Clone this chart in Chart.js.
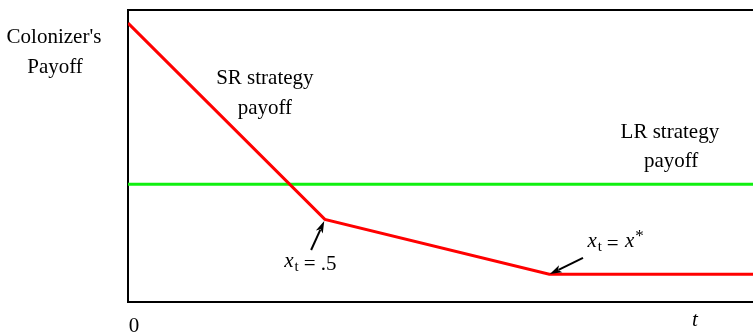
<!DOCTYPE html>
<html>
<head>
<meta charset="utf-8">
<script src="https://cdn.jsdelivr.net/npm/chart.js@4/dist/chart.umd.min.js"></script>
<style>
  body { margin: 0; background: #fff; }
  #wrap { width: 753px; height: 333px; position: relative; }
</style>
</head>
<body>
<div id="wrap"><canvas id="payoffChart"></canvas></div>
<script>
// Time axis runs 0..100 across the plot, payoff axis 0..100
const srTimes = [0, 31.5, 67.4, 100];
const srPayoff = [95.5, 28.3, 9.5, 9.5];
const lrTimes = [0, 100];
const lrPayoff = [40.3, 40.3];
const tickLabels = ['0', 't'];

const serif = '"Liberation Serif", "DejaVu Serif", serif';

// Text labels and arrows, placed in data units
const textNotes = [
  { text: 'SR strategy', x: 21.9, y: 74.6 },
  { text: 'payoff', x: 21.9, y: 64.3 },
  { text: 'LR strategy', x: 86.7, y: 56.1 },
  { text: 'payoff', x: 86.9, y: 46.3 }
];
const arrows = [
  { from: [29.3, 17.8], to: [31.4, 27.7] },
  { from: [72.8, 15.1], to: [67.5, 9.6] }
];

function drawArrow(ctx, x1, y1, x2, y2) {
  const ang = Math.atan2(y2 - y1, x2 - x1);
  const len = 12, wid = 3.8;
  ctx.beginPath();
  ctx.moveTo(x1, y1);
  ctx.lineTo(x2 - Math.cos(ang) * len * 0.8, y2 - Math.sin(ang) * len * 0.8);
  ctx.lineWidth = 2;
  ctx.strokeStyle = '#000';
  ctx.stroke();
  ctx.beginPath();
  ctx.moveTo(x2, y2);
  ctx.lineTo(x2 - Math.cos(ang) * len - Math.sin(ang) * wid, y2 - Math.sin(ang) * len + Math.cos(ang) * wid);
  ctx.lineTo(x2 - Math.cos(ang) * len * 0.75, y2 - Math.sin(ang) * len * 0.75);
  ctx.lineTo(x2 - Math.cos(ang) * len + Math.sin(ang) * wid, y2 - Math.sin(ang) * len - Math.cos(ang) * wid);
  ctx.closePath();
  ctx.fillStyle = '#000';
  ctx.fill();
}

// x_t = value, with italic x and subscript t
function drawXt(ctx, left, base, rest, star) {
  ctx.textAlign = 'left';
  ctx.textBaseline = 'alphabetic';
  ctx.fillStyle = '#000';
  let x = left;
  ctx.font = 'italic 21px ' + serif;
  ctx.fillText('x', x, base - 3);
  x += ctx.measureText('x').width + 1;
  ctx.font = '15px ' + serif;
  ctx.fillText('t', x, base + 1);
  x += ctx.measureText('t').width + 5;
  ctx.font = '21px ' + serif;
  ctx.fillText(rest, x, base);
  x += ctx.measureText(rest).width + 1;
  if (star) {
    ctx.font = 'italic 21px ' + serif;
    ctx.fillText('x', x, base - 3);
    x += ctx.measureText('x').width + 1;
    ctx.font = '17px ' + serif;
    ctx.fillText('*', x, base - 9);
  }
}

const notesPlugin = {
  id: 'notes',
  afterDatasetsDraw(chart) {
    const ctx = chart.ctx;
    const xs = chart.scales.x, ys = chart.scales.y;
    const area = chart.chartArea;
    ctx.save();
    ctx.fillStyle = '#000';
    ctx.textAlign = 'center';
    ctx.textBaseline = 'alphabetic';
    ctx.font = '21px ' + serif;
    textNotes.forEach(n => {
      ctx.fillText(n.text, xs.getPixelForValue(n.x), ys.getPixelForValue(n.y));
    });

    // axis title left of the plot
    ctx.fillText("Colonizer's", area.left - 74, area.top + 33);
    ctx.fillText('Payoff', area.left - 73, area.top + 63);

    // tick labels under the axis
    ctx.fillText(tickLabels[0], xs.getPixelForValue(0) + 6, area.bottom + 30);
    ctx.font = 'italic 21px ' + serif;
    ctx.fillText(tickLabels[1], xs.getPixelForValue(90.7), area.bottom + 24);

    arrows.forEach(a => {
      drawArrow(ctx,
        xs.getPixelForValue(a.from[0]), ys.getPixelForValue(a.from[1]),
        xs.getPixelForValue(a.to[0]), ys.getPixelForValue(a.to[1]));
    });

    drawXt(ctx, xs.getPixelForValue(25.0), ys.getPixelForValue(11.0), '= .5', false);
    drawXt(ctx, xs.getPixelForValue(73.5), ys.getPixelForValue(17.7), '= ', true);
    ctx.restore();
  }
};

const hidden = { display: false, drawTicks: false };

new Chart(document.getElementById('payoffChart'), {
  type: 'line',
  data: {
    datasets: [
      {
        label: 'SR strategy payoff',
        data: srTimes.map((t, i) => ({ x: t, y: srPayoff[i] })),
        borderColor: '#ff0000',
        borderWidth: 3,
        pointRadius: 0,
        tension: 0,
        fill: false
      },
      {
        label: 'LR strategy payoff',
        data: lrTimes.map((t, i) => ({ x: t, y: lrPayoff[i] })),
        borderColor: '#10f010',
        borderWidth: 3,
        pointRadius: 0,
        tension: 0,
        fill: false
      }
    ]
  },
  options: {
    responsive: true,
    maintainAspectRatio: false,
    animation: false,
    layout: { padding: { left: 128, top: 10, right: 0, bottom: 31 } },
    plugins: {
      legend: { display: false },
      tooltip: { enabled: false }
    },
    scales: {
      x: {
        type: 'linear', min: 0, max: 100,
        grid: hidden,
        ticks: { display: false },
        border: { display: true, color: '#000', width: 2 }
      },
      xTop: {
        type: 'linear', position: 'top', min: 0, max: 100,
        grid: hidden,
        ticks: { display: false },
        border: { display: true, color: '#000', width: 2 }
      },
      y: {
        type: 'linear', min: 0, max: 100,
        grid: hidden,
        ticks: { display: false },
        border: { display: true, color: '#000', width: 2 }
      }
    }
  },
  plugins: [notesPlugin]
});
</script>
</body>
</html>
